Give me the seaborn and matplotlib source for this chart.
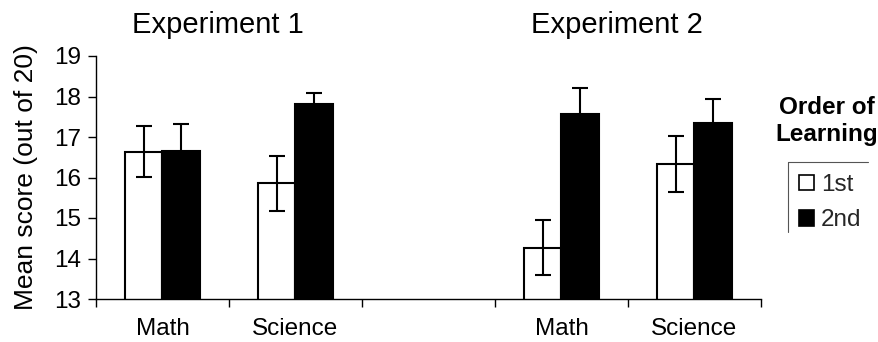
import pandas as pd
import seaborn as sns
import matplotlib.pyplot as plt
from matplotlib.patches import Patch
from matplotlib.lines import Line2D
from matplotlib.transforms import blended_transform_factory

# bar positions: two experiments, with an empty slot between them
slots = ["Exp1 Math", "Exp1 Science", "gap", "Exp2 Math", "Exp2 Science"]
tick_labels = ["Math", "Science", "", "Math", "Science"]
conditions = ["Exp1 Math", "Exp1 Science", "Exp2 Math", "Exp2 Science"]

first_means = [16.64, 15.86, 14.27, 16.33]
first_err = [0.63, 0.68, 0.68, 0.69]
second_means = [16.66, 17.81, 17.56, 17.35]
second_err = [0.66, 0.28, 0.64, 0.59]

orders = ["1st", "2nd"]

df = pd.DataFrame({
    "condition": conditions * 2,
    "order": ["1st"] * 4 + ["2nd"] * 4,
    "score": first_means + second_means,
    "err": first_err + second_err,
})

sns.set_theme(style="white")
plt.rcParams["font.family"] = ["Liberation Sans", "DejaVu Sans"]

fig = plt.figure(figsize=(8.79, 3.42), dpi=100)
ax = fig.add_axes([96 / 879, 1 - 299 / 342, (761 - 96) / 879, (299 - 56) / 342])

sns.barplot(data=df, x="condition", y="score", hue="order", order=slots,
            hue_order=orders, palette=["white", "black"], width=0.57,
            edgecolor="black", linewidth=1.5, errorbar=None, ax=ax,
            legend=False)

# error bars at the bar centres
for patch in ax.patches:
    cx = patch.get_x() + patch.get_width() / 2
    h = patch.get_height()
    if h <= 0:
        continue
    row = df[(df["score"] - h).abs() < 1e-9].iloc[0]
    ax.errorbar(cx, h, yerr=row["err"], fmt="none", ecolor="black",
                elinewidth=1.5, capsize=5.5, capthick=1.5, zorder=5)

ax.set_ylim(13, 19)
ax.set_xlim(-0.5, len(slots) - 0.5)
ax.set_yticks(range(13, 20))
ax.tick_params(axis="y", left=True, length=6, width=1, direction="out",
               labelsize=17.5, pad=5, colors="black")

# tick marks between categories, labels under them
ax.set_xticks([i - 0.5 for i in range(len(slots) + 1)])
ax.set_xticklabels([])
ax.set_xticks(range(len(slots)), minor=True)
ax.set_xticklabels(tick_labels, minor=True)
ax.tick_params(axis="x", which="major", bottom=True, length=6, width=1,
               direction="out", colors="black")
ax.tick_params(axis="x", which="minor", bottom=False, length=0,
               labelsize=17.5, pad=14, labelcolor="black")

ax.set_xlabel("")
ax.set_ylabel("Mean score (out of 20)", fontsize=19, labelpad=11,
              color="black")

for side in ["top", "right"]:
    ax.spines[side].set_visible(False)
for side in ["left", "bottom"]:
    ax.spines[side].set_color("black")
    ax.spines[side].set_linewidth(1)

tr = blended_transform_factory(ax.transData, fig.transFigure)
ax.text(0.42, 1 - 25 / 342, "Experiment 1", transform=tr, ha="center",
        va="center", fontsize=21, color="black")
ax.text(3.42, 1 - 25 / 342, "Experiment 2", transform=tr, ha="center",
        va="center", fontsize=21, color="black")

# legend
fig.text(827 / 879, 1 - 121 / 342, "Order of\nLearning", ha="center",
         va="center", fontsize=17.5, fontweight="bold", linespacing=1.2,
         color="black")
handles = [Patch(facecolor="white", edgecolor="black", linewidth=1.2),
           Patch(facecolor="black", edgecolor="black", linewidth=1.2)]
leg = fig.legend(handles, orders, loc="upper left",
                 bbox_to_anchor=(782 / 879, 1 - 157 / 342), frameon=False,
                 fontsize=17.5, handlelength=0.6, handleheight=0.6,
                 handletextpad=0.3, labelspacing=0.55, borderpad=0.2)
fig.add_artist(Line2D([788 / 879, 788 / 879], [1 - 162 / 342, 1 - 232 / 342],
                      transform=fig.transFigure, color="#555555", lw=0.8))
fig.add_artist(Line2D([788 / 879, 868 / 879], [1 - 162 / 342, 1 - 162 / 342],
                      transform=fig.transFigure, color="#555555", lw=0.8))

fig.savefig("out.png", dpi=100)
